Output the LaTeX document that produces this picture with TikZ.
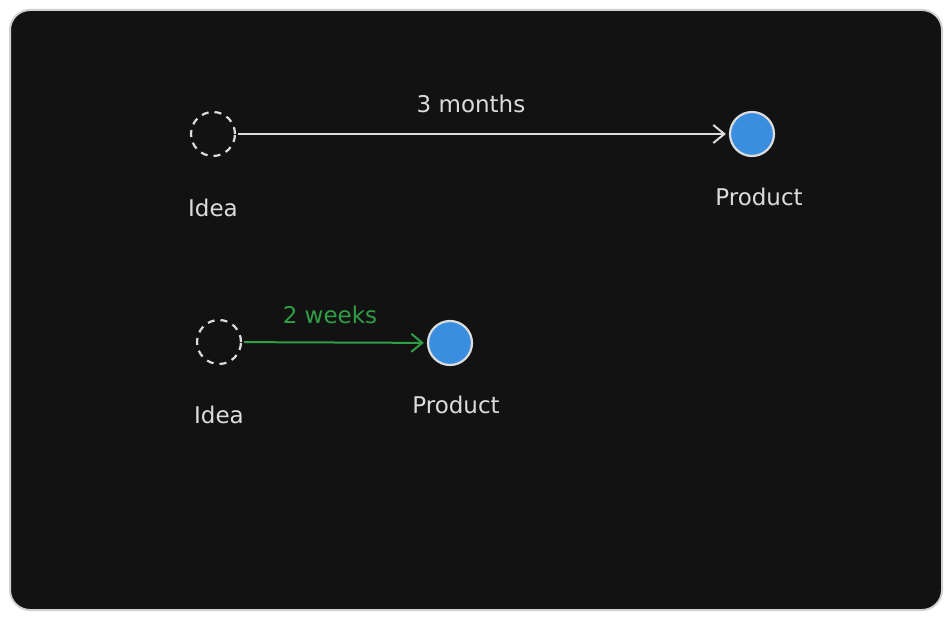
\documentclass[tikz,border=0pt]{standalone}
\usepackage{fontspec}
\setmainfont{DejaVu Sans}
\usepackage{xcolor}
\usetikzlibrary{arrows.meta, positioning}

\definecolor{boardbg}{HTML}{121212}
\definecolor{boardline}{HTML}{D0D0D0}
\definecolor{inkgray}{HTML}{DCDCDC}
\definecolor{dotblue}{HTML}{3A8EE0}
\definecolor{fastgreen}{HTML}{2F9E44}

\tikzset{
  idea/.style={circle, draw=inkgray, dashed, dash pattern=on 7pt off 6pt, line width=2.2pt, minimum size=44pt, inner sep=0pt},
  product/.style={circle, draw=inkgray, fill=dotblue, line width=2.2pt, minimum size=44pt, inner sep=0pt},
  caption/.style={text=inkgray, font=\fontsize{23}{27}\selectfont},
  flow/.style={-{Straight Barb[length=11pt, width=18pt, line width=2pt]}, line width=2pt, shorten >=3pt, shorten <=2pt}
}

\begin{document}
\begin{tikzpicture}[x=1pt, y=-1pt]
      \useasboundingbox (0,0) rectangle (952,620);
      \fill[white] (0,0) rectangle (952,620);
      \draw[boardline, fill=boardbg, line width=2pt, rounded corners=20pt] (10,10) rectangle (942,610);

      % slow path
      \node[idea] (idea1) at (213,134) {};
      \node[product] (prod1) at (752,134) {};
      \draw[flow, inkgray] (idea1) -- (prod1);
      \node[caption] (slowtext) at (471,104) {3 months};
      \node[caption] (ideatext1) at (213,208) {Idea};
      \node[caption] (prodtext1) at (759,197) {Product};

      % fast path
      \node[idea] (idea2) at (219,342) {};
      \node[product] (prod2) at (450,343) {};
      \draw[flow, fastgreen] (idea2) -- (prod2);
      \node[caption, text=fastgreen] (fasttext) at (330,315) {2 weeks};
      \node[caption] (ideatext2) at (219,415) {Idea};
      \node[caption] (prodtext2) at (456,405) {Product};
    \end{tikzpicture}
\end{document}
